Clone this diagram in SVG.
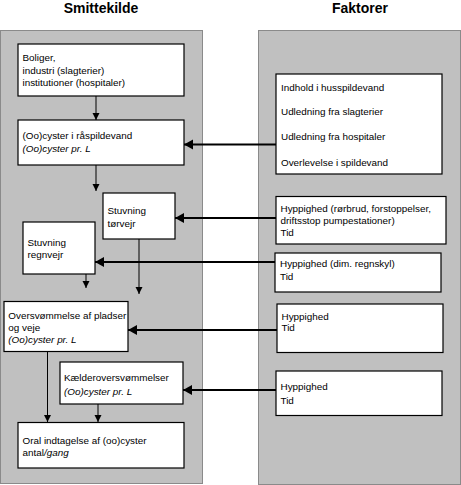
<svg xmlns="http://www.w3.org/2000/svg" width="461" height="485" viewBox="0 0 461 485">
<style>
.panel{fill:#c0c0c0;stroke:#8a8a8a;stroke-width:1}
.box{fill:#fff;stroke:#000;stroke-width:1.2}
.t{font-family:"Liberation Sans",Arial,sans-serif;font-size:9.9px;fill:#000}
.i{font-style:italic}
.title{font-family:"Liberation Sans",Arial,sans-serif;font-size:14px;font-weight:bold;fill:#000;text-anchor:middle}
.thin{stroke:#000;stroke-width:1;fill:none;marker-end:url(#ah)}
.thick{stroke:#000;stroke-width:2;fill:none;marker-end:url(#ahb)}
</style>
<defs>
<marker id="ah" markerUnits="userSpaceOnUse" markerWidth="8" markerHeight="8" refX="7" refY="3.5" orient="auto">
<path d="M0,0 L7,3.5 L0,7 z" fill="#000"/>
</marker>
<marker id="ahb" markerUnits="userSpaceOnUse" markerWidth="11" markerHeight="11" refX="9" refY="5" orient="auto">
<path d="M0,0 L9,5 L0,10 z" fill="#000"/>
</marker>
</defs>
<rect width="461" height="485" fill="#fff"/>
<g id="titles">
<text class="title" x="101" y="13">Smittekilde</text>
<text class="title" x="360" y="13">Faktorer</text>
</g>
<g id="panels">
<rect class="panel" x="0.5" y="30.5" width="202" height="453"/>
<rect class="panel" x="258.5" y="30.5" width="202" height="454"/>
</g>
<g id="connectors">
<line class="thin" x1="96" y1="96" x2="96" y2="120"/>
<line class="thin" x1="96" y1="165" x2="96" y2="191"/>
<line class="thin" x1="86" y1="274" x2="86" y2="288"/>
<line class="thin" x1="139" y1="239" x2="139" y2="294"/>
<line class="thin" x1="47.5" y1="351" x2="47.5" y2="422"/>
<line class="thin" x1="98" y1="404" x2="98" y2="422"/>
<line class="thick" x1="276" y1="144.5" x2="184" y2="144.5"/>
<line class="thick" x1="276" y1="218" x2="175" y2="218"/>
<line class="thick" x1="275" y1="262" x2="95" y2="262"/>
<line class="thick" x1="277" y1="330" x2="128" y2="330"/>
<line class="thick" x1="276" y1="390" x2="183" y2="390"/>
</g>
<g id="boliger">
<rect class="box" x="18" y="44" width="166" height="52"/>
<text class="t" x="22.5" y="61">Boliger,</text>
<text class="t" x="22.5" y="73.5">industri (slagterier)</text>
<text class="t" x="22.5" y="86">institutioner (hospitaler)</text>
</g>
<g id="raaspildevand">
<rect class="box" x="18" y="120" width="166" height="45"/>
<text class="t" x="22.5" y="139">(Oo)cyster i råspildevand</text>
<text class="t i" x="22.5" y="151.5">(Oo)cyster pr. L</text>
</g>
<g id="torvejr">
<rect class="box" x="103" y="193" width="72" height="46"/>
<text class="t" x="107.5" y="213.5">Stuvning</text>
<text class="t" x="107.5" y="226.5">tørvejr</text>
</g>
<g id="regnvejr">
<rect class="box" x="23" y="222" width="72" height="52"/>
<text class="t" x="27.5" y="245.5">Stuvning</text>
<text class="t" x="27.5" y="258">regnvejr</text>
</g>
<g id="oversvommelse">
<rect class="box" x="4" y="301.5" width="124" height="50"/>
<text class="t" x="8.3" y="318.5">Oversvømmelse af pladser</text>
<text class="t" x="8.3" y="330.5">og veje</text>
<text class="t i" x="8.3" y="343">(Oo)cyster pr. L</text>
</g>
<g id="kaelder">
<rect class="box" x="60" y="362" width="123" height="42"/>
<text class="t" x="64" y="381">Kælderoversvømmelser</text>
<text class="t i" x="64" y="395">(Oo)cyster pr. L</text>
</g>
<g id="oral">
<rect class="box" x="18" y="422.5" width="166" height="45.5"/>
<text class="t" x="22.5" y="443.5">Oral indtagelse af (oo)cyster</text>
<text class="t" x="22.5" y="456">antal<tspan class="i">/gang</tspan></text>
</g>
<g id="faktor-spildevand">
<rect class="box" x="276" y="74" width="166" height="100"/>
<text class="t" x="281" y="90.5">Indhold i husspildevand</text>
<text class="t" x="281" y="115">Udledning fra slagterier</text>
<text class="t" x="281" y="140">Udledning fra hospitaler</text>
<text class="t" x="281" y="166">Overlevelse i spildevand</text>
</g>
<g id="faktor-torvejr">
<rect class="box" x="276" y="196.5" width="170" height="47.5"/>
<text class="t" x="280.5" y="212">Hyppighed (rørbrud, forstoppelser,</text>
<text class="t" x="280.5" y="224">driftsstop pumpestationer)</text>
<text class="t" x="280.5" y="236">Tid</text>
</g>
<g id="faktor-regnvejr">
<rect class="box" x="275" y="253" width="166" height="39"/>
<text class="t" x="280" y="267">Hyppighed (dim. regnskyl)</text>
<text class="t" x="280" y="280">Tid</text>
</g>
<g id="faktor-oversvommelse">
<rect class="box" x="277" y="304" width="166" height="48.5"/>
<text class="t" x="281.5" y="320">Hyppighed</text>
<text class="t" x="281.5" y="331">Tid</text>
</g>
<g id="faktor-kaelder">
<rect class="box" x="276" y="371" width="166" height="44.5"/>
<text class="t" x="280.5" y="390">Hyppighed</text>
<text class="t" x="280.5" y="403.5">Tid</text>
</g>
</svg>
